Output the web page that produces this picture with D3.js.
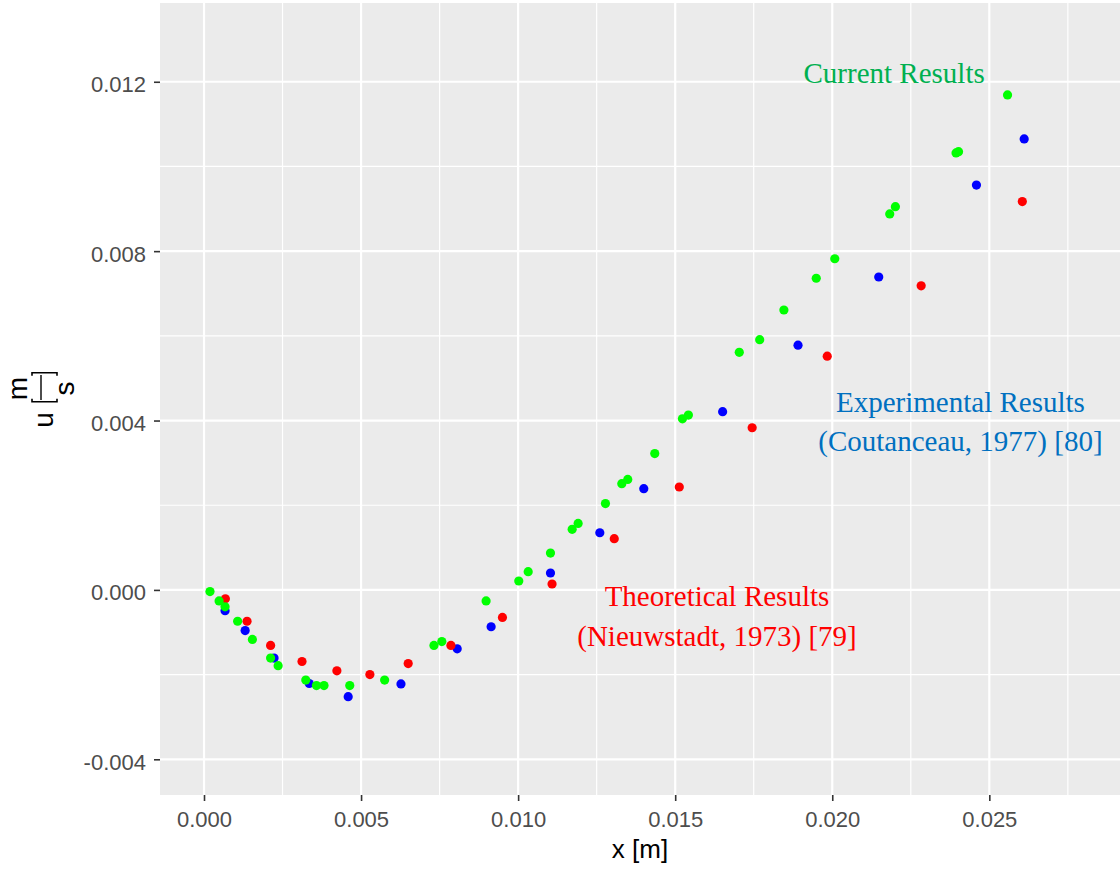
<!DOCTYPE html>
<html>
<head>
<meta charset="utf-8">
<script src="https://cdn.jsdelivr.net/npm/d3@7"></script>
<style>
  body { margin: 0; background: #ffffff; }
  svg { display: block; }
</style>
</head>
<body>
<svg id="chart" width="1120" height="869"></svg>
<script>
// values in metres / metres per second
const currentPts = [
  [0.00019, -0.00004], [0.00048, -0.00026], [0.00067, -0.0004], [0.00107, -0.00074],
  [0.00154, -0.00117], [0.00212, -0.00161], [0.00236, -0.00179], [0.00324, -0.00213],
  [0.00358, -0.00226], [0.00382, -0.00226], [0.00464, -0.00226], [0.00575, -0.00213],
  [0.00732, -0.00131], [0.00757, -0.00122], [0.00898, -0.00026], [0.01002, 0.00021],
  [0.01032, 0.00043], [0.01103, 0.00087], [0.01172, 0.00143], [0.01191, 0.00157],
  [0.01278, 0.00204], [0.0133, 0.00251], [0.01349, 0.00261], [0.01435, 0.00322],
  [0.01523, 0.00404], [0.01542, 0.00413], [0.01704, 0.00561], [0.01769, 0.00591],
  [0.01846, 0.00661], [0.01949, 0.00736], [0.02008, 0.00782], [0.02183, 0.00888],
  [0.02201, 0.00905], [0.02394, 0.01032], [0.02402, 0.01035], [0.02558, 0.01169]
];
const theoryPts = [
  [0.00068, -0.00021], [0.00137, -0.00074], [0.00212, -0.00131], [0.00312, -0.00169],
  [0.00423, -0.00191], [0.00528, -0.002], [0.0065, -0.00174], [0.00786, -0.00131],
  [0.0095, -0.00065], [0.01108, 0.00014], [0.01306, 0.00121], [0.01513, 0.00243],
  [0.01745, 0.00383], [0.01984, 0.00552], [0.02283, 0.00718], [0.02605, 0.00917]
];
const experimentPts = [
  [0.00067, -0.00049], [0.00131, -0.00096], [0.00223, -0.00161], [0.00335, -0.00221],
  [0.00459, -0.00252], [0.00627, -0.00222], [0.00806, -0.00139], [0.00914, -0.00087],
  [0.01103, 0.0004], [0.0126, 0.00135], [0.014, 0.00239], [0.01651, 0.00421],
  [0.01891, 0.00578], [0.02148, 0.00739], [0.02459, 0.00956], [0.02611, 0.01065]
];

const xTicks = [0, 0.005, 0.01, 0.015, 0.02, 0.025];
const xMinor = [0.0025, 0.0075, 0.0125, 0.0175, 0.0225, 0.0275];
const yTicks = [-0.004, 0, 0.004, 0.008, 0.012];
const yMinor = [-0.002, 0.002, 0.006, 0.01];

const labels = [
  { lines: ["Current Results"], x: 0.02197, y: 0.01198, color: "#00B050" },
  { lines: ["Experimental Results", "(Coutanceau, 1977) [80]"], x: 0.02408, y: 0.00421, color: "#0070C0" },
  { lines: ["Theoretical Results", "(Nieuwstadt, 1973) [79]"], x: 0.01633, y: -0.00039, color: "#FF0000" }
];

const svg = d3.select("#chart");
const pLeft = 160, pRight = 1120, pTop = 3, pBottom = 795;

const x = d3.scaleLinear().domain([-0.001401, 0.02916]).range([pLeft, pRight]);
const y = d3.scaleLinear().domain([-0.004843, 0.01386]).range([pBottom, pTop]);

// panel
svg.append("rect")
  .attr("x", pLeft)
  .attr("y", pTop)
  .attr("width", pRight - pLeft)
  .attr("height", pBottom - pTop)
  .attr("fill", "#EBEBEB");

const grid = svg.append("g");
grid.selectAll(".xminor").data(xMinor).join("line")
  .attr("x1", d => x(d)).attr("x2", d => x(d))
  .attr("y1", pTop).attr("y2", pBottom)
  .attr("stroke", "white").attr("stroke-width", 1.2);
grid.selectAll(".yminor").data(yMinor).join("line")
  .attr("x1", pLeft).attr("x2", pRight)
  .attr("y1", d => y(d)).attr("y2", d => y(d))
  .attr("stroke", "white").attr("stroke-width", 1.2);
grid.selectAll(".xmajor").data(xTicks).join("line")
  .attr("x1", d => x(d)).attr("x2", d => x(d))
  .attr("y1", pTop).attr("y2", pBottom)
  .attr("stroke", "white").attr("stroke-width", 2.2);
grid.selectAll(".ymajor").data(yTicks).join("line")
  .attr("x1", pLeft).attr("x2", pRight)
  .attr("y1", d => y(d)).attr("y2", d => y(d))
  .attr("stroke", "white").attr("stroke-width", 2.2);

// axes
const xAxis = svg.append("g")
  .attr("transform", `translate(0,${pBottom})`)
  .call(d3.axisBottom(x).tickValues(xTicks).tickSize(6).tickPadding(10.5)
    .tickFormat(d => d.toFixed(3)));
const yAxis = svg.append("g")
  .attr("transform", `translate(${pLeft},0)`)
  .call(d3.axisLeft(y).tickValues(yTicks).tickSize(6).tickPadding(8)
    .tickFormat(d => d.toFixed(3)));

[xAxis, yAxis].forEach(ax => {
  ax.select(".domain").remove();
  ax.selectAll(".tick line").attr("stroke", "#333333").attr("stroke-width", 1.6);
  ax.selectAll(".tick text")
    .attr("fill", "#4D4D4D")
    .attr("font-family", "Liberation Sans, Arial, sans-serif")
    .attr("font-size", 22);
});
yAxis.selectAll(".tick text").attr("dy", "0.45em");

// points: blue under red under green
function drawPts(pts, color) {
  svg.append("g").selectAll("circle").data(pts).join("circle")
    .attr("cx", d => x(d[0]))
    .attr("cy", d => y(d[1]))
    .attr("r", 4.6)
    .attr("fill", color);
}
drawPts(experimentPts, "#0000FF");
drawPts(theoryPts, "#FF0000");
drawPts(currentPts, "#00FF00");

// annotations
labels.forEach(l => {
  const t = svg.append("text")
    .attr("x", x(l.x))
    .attr("y", y(l.y))
    .attr("text-anchor", "middle")
    .attr("font-family", "Liberation Serif, Times New Roman, serif")
    .attr("font-size", 29)
    .attr("fill", l.color);
  l.lines.forEach((s, i) => {
    t.append("tspan")
      .attr("x", x(l.x))
      .attr("dy", i === 0 ? 0 : "1.36em")
      .text(s);
  });
});

// axis titles
svg.append("text")
  .attr("x", (pLeft + pRight) / 2)
  .attr("y", 858)
  .attr("text-anchor", "middle")
  .attr("font-family", "Liberation Sans, Arial, sans-serif")
  .attr("font-size", 26)
  .attr("fill", "#000")
  .text("x [m]");

// u [m/s] rotated
const yt = svg.append("g")
  .attr("transform", "translate(45,395) rotate(-90)")
  .attr("font-family", "Liberation Sans, Arial, sans-serif")
  .attr("font-size", 28)
  .attr("fill", "#000");
yt.append("text").attr("x", -25).attr("y", 8).attr("text-anchor", "middle").text("u");
yt.append("text").attr("x", 6.5).attr("y", -18).attr("text-anchor", "middle").text("m");
yt.append("text").attr("x", 6.5).attr("y", 29).attr("text-anchor", "middle").text("s");
yt.append("line")
  .attr("x1", -5).attr("x2", 20).attr("y1", -4).attr("y2", -4)
  .attr("stroke", "#000").attr("stroke-width", 1.4);
yt.append("path")
  .attr("d", "M-3.7,-13 L-6.7,-13 L-6.7,12 L-3.7,12")
  .attr("fill", "none").attr("stroke", "#000").attr("stroke-width", 1.6);
yt.append("path")
  .attr("d", "M19.3,-13 L22.3,-13 L22.3,12 L19.3,12")
  .attr("fill", "none").attr("stroke", "#000").attr("stroke-width", 1.6);
</script>
</body>
</html>
